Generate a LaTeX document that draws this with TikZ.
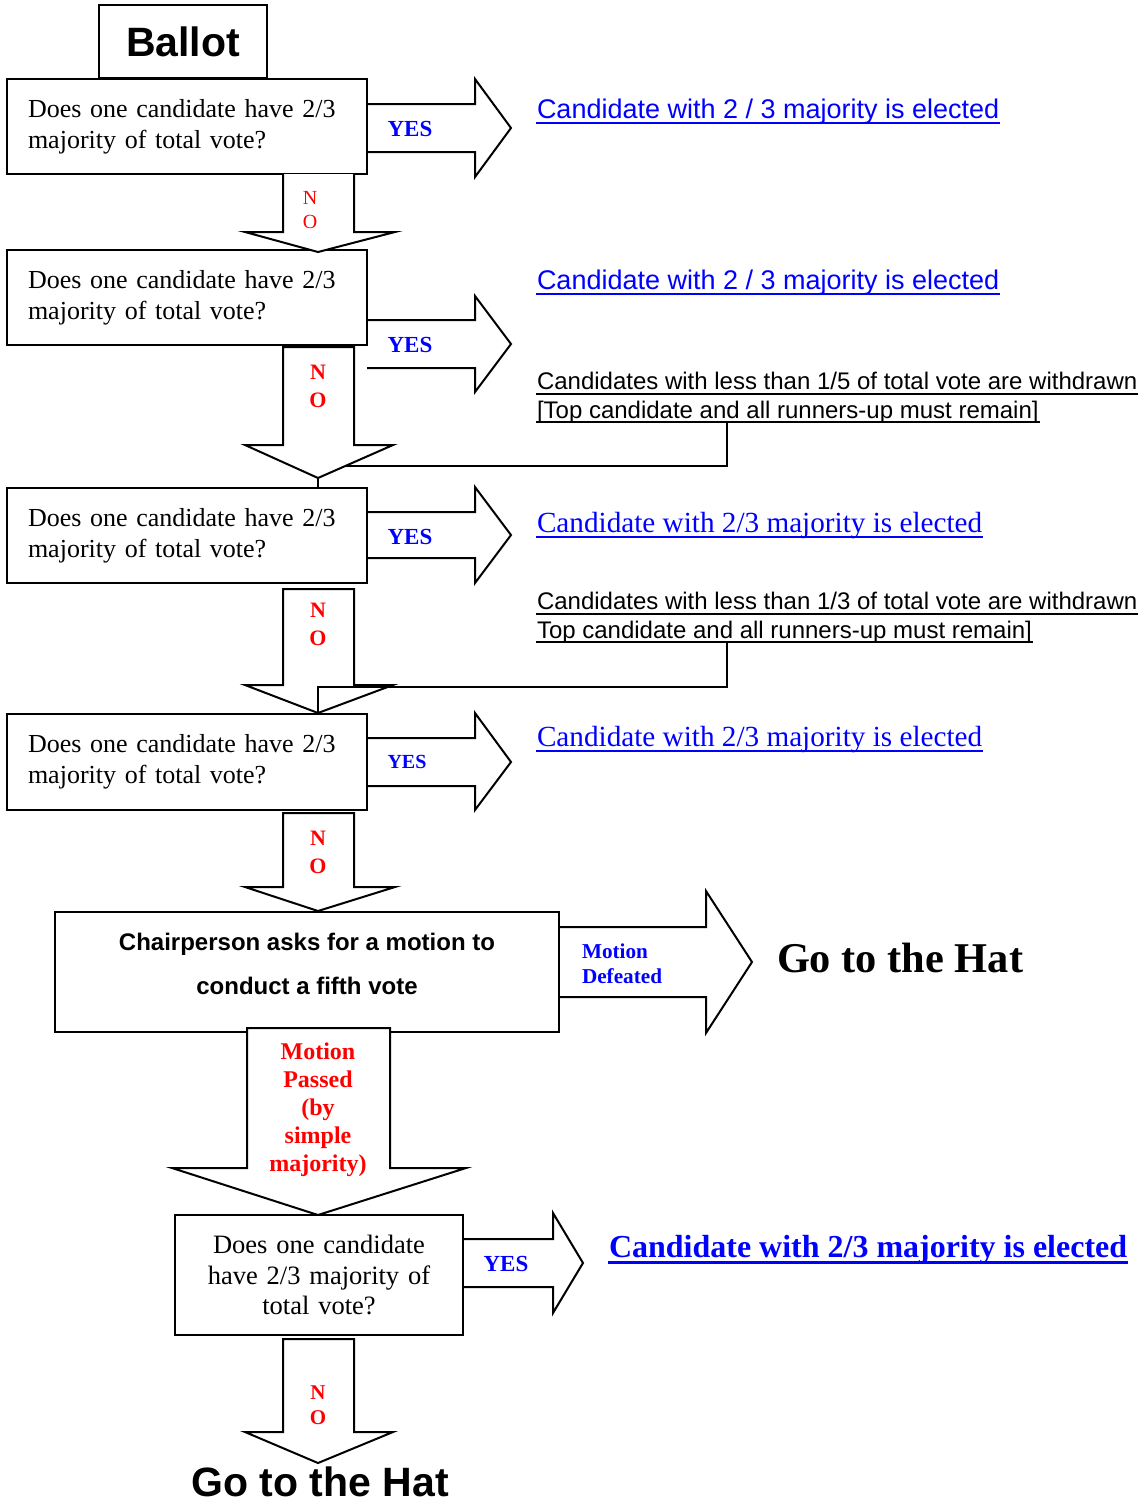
\documentclass[tikz,border=0pt]{standalone}
\usepackage{fontspec}
\setmainfont{Liberation Serif}
\setsansfont{Liberation Sans}
\begin{document}
\begin{tikzpicture}[
    x=0.5pt, y=-0.5pt,
    line width=1pt,
    % Style for the question boxes
    question/.style={draw, fill=white, minimum width=180pt, minimum height=47.5pt,
        text width=159pt, align=left, inner xsep=10.5pt, inner ysep=0pt,
        font=\fontsize{13pt}{15.5pt}\selectfont},
    % Style for the hollow block arrows
    blockarrow/.style={draw, fill=white, line join=miter},
    yes/.style={text=blue, inner sep=0pt, font=\bfseries\fontsize{11.5pt}{13pt}\selectfont},
    no/.style={text=red, align=center, inner sep=0pt, font=\bfseries\fontsize{11pt}{14pt}\selectfont},
    elected/.style={anchor=base west, inner sep=0pt, text=blue},
    withdrawn/.style={anchor=base west, inner sep=0pt, font=\sffamily\fontsize{12pt}{14pt}\selectfont},
    % Style for the rules under the outcome texts
    underrule/.style={line width=1pt}
]
    \useasboundingbox (0,0) rectangle (1143,1505);

    % --- 1. Block Arrows (behind the boxes) ---
    % YES arrows
    \draw[blockarrow] (367,104) -- (475,104) -- (475,79) -- (511,128) -- (475,177) -- (475,152) -- (367,152);
    \draw[blockarrow] (367,320) -- (475,320) -- (475,296) -- (511,344) -- (475,392) -- (475,368) -- (367,368);
    \draw[blockarrow] (367,512) -- (475,512) -- (475,487) -- (511,535) -- (475,583) -- (475,558) -- (367,558);
    \draw[blockarrow] (367,738) -- (475,738) -- (475,713) -- (511,762) -- (475,810) -- (475,786) -- (367,786);
    \draw[blockarrow] (559,927) -- (706,927) -- (706,891) -- (752,962) -- (706,1033) -- (706,997) -- (559,997);
    \draw[blockarrow] (463,1239) -- (553,1239) -- (553,1213) -- (583,1263) -- (553,1313) -- (553,1287) -- (463,1287);

    % --- 2. Boxes ---
    \node[draw, fill=white, minimum width=84pt, minimum height=36.5pt, inner sep=0pt,
        font=\sffamily\bfseries\fontsize{20.5pt}{24pt}\selectfont] (ballot) at (183,41.5) {Ballot};
    \node[question] (box1) at (187,126.5) {Does one candidate have 2/3\\majority of total vote?};
    \node[question] (box2) at (187,297.5) {Does one candidate have 2/3\\majority of total vote?};
    \node[question] (box3) at (187,535.5) {Does one candidate have 2/3\\majority of total vote?};
    \node[question, minimum height=48pt] (box4) at (187,762) {Does one candidate have 2/3\\majority of total vote?};
    \node[draw, fill=white, minimum width=252pt, minimum height=60pt] (motion) at (307,972) {};
    \node[align=center, inner sep=0pt, font=\sffamily\bfseries\fontsize{12pt}{22pt}\selectfont]
        (motiontext) at (307,964) {Chairperson asks for a motion to\\conduct a fifth vote};
    \node[draw, fill=white, minimum width=144pt, minimum height=60pt, text width=140pt, align=center,
        inner sep=0pt, font=\fontsize{13.25pt}{15.25pt}\selectfont] (box6) at (319,1275)
        {Does one candidate\\have 2/3 majority of\\total vote?};

    % --- 3. Down Arrows (NO) ---
    \draw[blockarrow] (283,174) -- (283,232) -- (245,232) -- (318,252) -- (395,232) -- (354,232) -- (354,174);
    \draw[blockarrow] (283,347) -- (283,445) -- (245,445) -- (318,478) -- (393,445) -- (354,445) -- (354,347) -- cycle;
    \draw[blockarrow] (283,589) -- (283,685) -- (245,685) -- (318,713) -- (393,685) -- (354,685) -- (354,589) -- cycle;
    \draw[blockarrow] (283,813) -- (283,887) -- (245,887) -- (318,911) -- (395,887) -- (354,887) -- (354,813) -- cycle;
    \draw[blockarrow] (247,1028) -- (247,1168) -- (172,1168) -- (318,1215) -- (466,1168) -- (390,1168) -- (390,1028) -- cycle;
    \draw[blockarrow] (283,1339) -- (283,1432) -- (245,1432) -- (318,1463) -- (393,1432) -- (354,1432) -- (354,1339) -- cycle;

    \coordinate (tip2) at (318,478);
    \draw (tip2) -- (tip2 |- box3.north);

    % --- 4. Arrow Labels ---
    \node[yes] (yes1) at (410,129) {YES};
    \node[yes] (yes2) at (410,345) {YES};
    \node[yes] (yes3) at (410,537) {YES};
    \node[yes, font=\bfseries\fontsize{10pt}{12pt}\selectfont] (yes4) at (407,762) {YES};
    \node[yes] (yes6) at (506,1264) {YES};

    \node[no, font=\fontsize{10pt}{12pt}\selectfont] (no1) at (310,210) {N\\O};
    \node[no] (no2) at (318,386) {N\\O};
    \node[no] (no3) at (318,624) {N\\O};
    \node[no] (no4) at (318,852) {N\\O};
    \node[no, font=\bfseries\fontsize{10.5pt}{12.5pt}\selectfont] (no6) at (318,1405) {N\\O};

    \node[no, font=\bfseries\fontsize{12pt}{14pt}\selectfont] (passed) at (318,1110)
        {Motion\\Passed\\(by\\simple\\majority)};
    \node[anchor=west, inner sep=0pt, text=blue, align=left,
        font=\bfseries\fontsize{10.6pt}{12.5pt}\selectfont] (defeated) at (581,963.5) {Motion\\Defeated};

    % --- 5. Outcomes ---
    \node[elected, font=\sffamily\fontsize{13.5pt}{16pt}\selectfont] (elect1) at (536,118.5)
        {Candidate with 2 / 3 majority is elected};
    \node[elected, font=\sffamily\fontsize{13.5pt}{16pt}\selectfont] (elect2) at (536,289.5)
        {Candidate with 2 / 3 majority is elected};
    \node[elected, font=\fontsize{14.6pt}{17pt}\selectfont] (elect3) at (536,532.5)
        {Candidate with 2/3 majority is elected};
    \node[elected, font=\fontsize{14.6pt}{17pt}\selectfont] (elect4) at (536,746.5)
        {Candidate with 2/3 majority is elected};
    \node[elected, font=\bfseries\fontsize{16pt}{19pt}\selectfont] (elect6) at (608,1257.5)
        {Candidate with 2/3 majority is elected};

    \node[withdrawn] (fifth1) at (536,389.5) {Candidates with less than 1/5 of total vote are withdrawn};
    \node[withdrawn] (remain1) at (536,418) {[Top candidate and all runners-up must remain]};
    \node[withdrawn] (third1) at (536,609.5) {Candidates with less than 1/3 of total vote are withdrawn};
    \node[withdrawn] (remain2) at (536,638) {Top candidate and all runners-up must remain]};

    % underlines
    \draw[underrule, blue] ([yshift=-2.2pt]elect1.base west) -- ([yshift=-2.2pt]elect1.base east);
    \draw[underrule, blue] ([yshift=-2.2pt]elect2.base west) -- ([yshift=-2.2pt]elect2.base east);
    \draw[underrule, blue] ([yshift=-2.2pt]elect3.base west) -- ([yshift=-2.2pt]elect3.base east);
    \draw[underrule, blue] ([yshift=-2.2pt]elect4.base west) -- ([yshift=-2.2pt]elect4.base east);
    \draw[underrule, blue, line width=1.5pt] ([yshift=-2.6pt]elect6.base west) -- ([yshift=-2.6pt]elect6.base east);
    \draw[underrule] ([yshift=-2pt]fifth1.base west) -- ([yshift=-2pt]fifth1.base east);
    \draw[underrule] ([yshift=-2pt]remain1.base west) -- ([yshift=-2pt]remain1.base east);
    \draw[underrule] ([yshift=-2pt]third1.base west) -- ([yshift=-2pt]third1.base east);
    \draw[underrule] ([yshift=-2pt]remain2.base west) -- ([yshift=-2pt]remain2.base east);

    \node[anchor=west, inner sep=0pt, font=\bfseries\fontsize{21.2pt}{25pt}\selectfont] (hat1) at (776,958) {Go to the Hat};
    \node[inner sep=0pt, font=\sffamily\bfseries\fontsize{20.5pt}{25pt}\selectfont] (hat2) at (320,1482) {Go to the Hat};

    % --- 6. Connectors from the withdrawal notes ---
    \coordinate (tap1) at (727,421);
    \coordinate (join1) at (345,466);
    \draw (tap1) |- (join1);

    \coordinate (tap2) at (727,641);
    \coordinate (bend2) at (318,687);
    \coordinate (tip3) at (318,713);
    \draw (tap2) |- (bend2) -- (tip3);

\end{tikzpicture}
\end{document}
